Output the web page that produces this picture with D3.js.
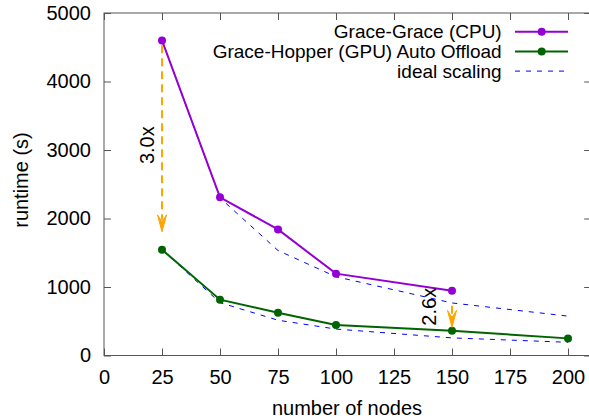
<!DOCTYPE html>
<html>
<head>
<meta charset="utf-8">
<script src="https://cdn.jsdelivr.net/npm/d3@7"></script>
<style>
  body { margin: 0; background: #fff; }
  text { font-family: "Liberation Sans", Arial, sans-serif; }
</style>
</head>
<body>
<svg id="chart"></svg>
<script>
let width = 589
let height = 419

// data
let nodes = [25, 50, 75, 100, 150]
let cpuRuntime = [4600, 2310, 1840, 1195, 945]
let gpuNodes = [25, 50, 75, 100, 150, 200]
let gpuRuntime = [1545, 815, 625, 445, 360, 250]
let idealNodes = [25, 50, 75, 100, 150, 200]
let idealCpu = [4600, 2300, 1533, 1150, 767, 575]
let idealGpu = [1545, 772, 515, 386, 257, 193]
let xTicks = [0, 25, 50, 75, 100, 125, 150, 175, 200]
let yTicks = [0, 1000, 2000, 3000, 4000, 5000]
let arrows = [
  {x: 25, from: 4530, to: 1805, label: "3.0x", lx: 18.4, ly: 3070},
  {x: 150, from: 725, to: 410, label: "2.6x", lx: 140, ly: 712}
]

let purple = "#9400d3"
let green = "#006400"
let orange = "#ffa500"

let svg = d3.select("#chart").attr("width", width).attr("height", height)

let xScale = d3.scaleLinear().domain([0, 210]).range([104, 591.2])
let yScale = d3.scaleLinear().domain([0, 5000]).range([355.5, 13])

// frame
svg.append("rect")
  .attr("x", xScale(0)).attr("y", yScale(5000))
  .attr("width", xScale(210) - xScale(0)).attr("height", yScale(0) - yScale(5000))
  .attr("fill", "none").attr("stroke", "#555").attr("stroke-width", 1)

let styleAxis = (g) => {
  g.select(".domain").remove()
  g.selectAll("line").attr("stroke", "#555")
  g.selectAll("text").attr("font-size", 20).attr("fill", "#000")
    .attr("font-family", "Liberation Sans, Arial, sans-serif")
}

svg.append("g")
  .attr("transform", "translate(0," + yScale(0) + ")")
  .call(d3.axisBottom(xScale).tickValues(xTicks).tickFormat(d3.format("d"))
    .tickSizeInner(-7).tickSizeOuter(0).tickPadding(14))
  .call(styleAxis)

svg.append("g")
  .attr("transform", "translate(" + xScale(0) + ",0)")
  .call(d3.axisLeft(yScale).tickValues(yTicks).tickFormat(d3.format("d"))
    .tickSizeInner(-7).tickSizeOuter(0).tickPadding(13))
  .call(styleAxis)

// mirror ticks
svg.append("g")
  .attr("transform", "translate(0," + yScale(5000) + ")")
  .call(d3.axisTop(xScale).tickValues(xTicks).tickSizeInner(-7).tickSizeOuter(0).tickFormat(""))
  .call(styleAxis)

svg.append("g")
  .attr("transform", "translate(" + xScale(210) + ",0)")
  .call(d3.axisRight(yScale).tickValues(yTicks).tickSizeInner(-7).tickSizeOuter(0).tickFormat(""))
  .call(styleAxis)

// axis titles
svg.append("text")
  .attr("x", 347).attr("y", 408).attr("dy", "0.35em")
  .attr("text-anchor", "middle").attr("font-size", 20)
  .text("number of nodes")

svg.append("text")
  .attr("transform", "translate(21,180) rotate(-90)")
  .attr("dy", "0.35em")
  .attr("text-anchor", "middle").attr("font-size", 20)
  .text("runtime (s)")

let line = d3.line().x(d => xScale(d[0])).y(d => yScale(d[1]))

// ideal scaling
let idealGroups = [idealCpu, idealGpu]
idealGroups.forEach((vals) => {
  svg.append("path")
    .datum(idealNodes.map((n, i) => [n, vals[i]]))
    .attr("d", line)
    .attr("fill", "none").attr("stroke", "#0000ff")
    .attr("stroke-width", 1).attr("stroke-dasharray", "5,6")
})

let series = [
  {xs: nodes, ys: cpuRuntime, color: purple},
  {xs: gpuNodes, ys: gpuRuntime, color: green}
]

series.forEach((s) => {
  let pts = s.xs.map((n, i) => [n, s.ys[i]])
  svg.append("path")
    .datum(pts)
    .attr("d", line)
    .attr("fill", "none").attr("stroke", s.color).attr("stroke-width", 2)
  svg.selectAll(null)
    .data(pts)
    .enter()
    .append("circle")
    .attr("cx", d => xScale(d[0]))
    .attr("cy", d => yScale(d[1]))
    .attr("r", 4)
    .attr("fill", s.color)
})

// speedup arrows
arrows.forEach((a) => {
  let ax = xScale(a.x)
  let y0 = yScale(a.from)
  let y1 = yScale(a.to)
  svg.append("line")
    .attr("x1", ax).attr("x2", ax)
    .attr("y1", y0).attr("y2", y1 - 12)
    .attr("stroke", orange).attr("stroke-width", 2)
    .attr("stroke-dasharray", "8,5")
  svg.append("path")
    .attr("d", "M" + ax + "," + y1 + " L" + (ax - 4.5) + "," + (y1 - 17) +
      " L" + ax + "," + (y1 - 10) + " L" + (ax + 4.5) + "," + (y1 - 17) + " Z")
    .attr("fill", orange).attr("stroke", orange).attr("stroke-width", 1)
  svg.append("text")
    .attr("transform", "translate(" + xScale(a.lx) + "," + yScale(a.ly) + ") rotate(-90)")
    .attr("dy", "0.35em")
    .attr("text-anchor", "middle").attr("font-size", 20)
    .text(a.label)
})

// legend
let legendItems = [
  {label: "Grace-Grace (CPU)", color: purple, dash: null, dot: true},
  {label: "Grace-Hopper (GPU) Auto Offload", color: green, dash: null, dot: true},
  {label: "ideal scaling", color: "#0000ff", dash: "5,6", dot: false}
]
let legend = svg.append("g")
legendItems.forEach((item, i) => {
  let ly = 31.7 + i * 19.7
  legend.append("text")
    .attr("x", 501.7).attr("y", ly).attr("dy", "0.35em")
    .attr("text-anchor", "end").attr("font-size", 19)
    .text(item.label)
  legend.append("line")
    .attr("x1", 515).attr("x2", 568)
    .attr("y1", ly).attr("y2", ly)
    .attr("stroke", item.color)
    .attr("stroke-width", item.dot ? 2 : 1)
    .attr("stroke-dasharray", item.dash)
  if (item.dot) {
    legend.append("circle")
      .attr("cx", 541.7).attr("cy", ly).attr("r", 4).attr("fill", item.color)
  }
})
</script>
</body>
</html>
